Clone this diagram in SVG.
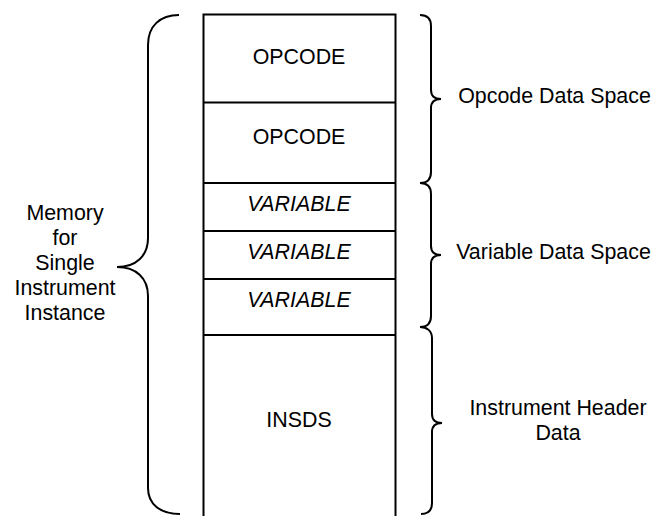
<svg xmlns="http://www.w3.org/2000/svg" width="654" height="516" viewBox="0 0 654 516">
<style>
.ln{fill:none;stroke:#000;stroke-width:2}
.t{font-family:"Liberation Sans",Arial,sans-serif;font-size:21.4px;fill:#000;text-anchor:middle}
.i{font-style:italic}
</style>
<rect width="654" height="516" fill="#fff"/>
<g id="block">
<rect class="ln" x="203.5" y="14.5" width="192" height="520"/>
</g>
<g id="opcode1"><text class="t" x="299" y="64">OPCODE</text></g>
<g id="opcode2"><line class="ln" x1="203" y1="102.5" x2="396" y2="102.5"/><text class="t" x="299" y="144">OPCODE</text></g>
<g id="var1"><line class="ln" x1="203" y1="183" x2="396" y2="183"/><text class="t i" x="299" y="211">VARIABLE</text></g>
<g id="var2"><line class="ln" x1="203" y1="231" x2="396" y2="231"/><text class="t i" x="299" y="259">VARIABLE</text></g>
<g id="var3"><line class="ln" x1="203" y1="279" x2="396" y2="279"/><text class="t i" x="299" y="307">VARIABLE</text></g>
<g id="insds"><line class="ln" x1="203" y1="335" x2="396" y2="335"/><text class="t" x="299" y="427">INSDS</text></g>
<g id="connectors">
<path class="ln" d="M179,15 C160,15 148,26 148,45 L148,238 C148,256 136,267 117,267 C136,267 148,278 148,296 L148,488 C148,504 160,514 180,514"/>
<path class="ln" d="M420,15 C427,15 431,19 431,26 L431,90 C431,96 435,99 441,99 C435,99 431,102 431,108 L431,172 C431,179 427,183 420,183"/>
<path class="ln" d="M420,183 C427,183 431,187 431,194 L431,246 C431,252 435,255 441,255 C435,255 431,258 431,264 L431,316 C431,323 427,327 420,327"/>
<path class="ln" d="M420,327 C427,327 432,331 432,338 L432,414 C432,420 436,423 442,423 C436,423 432,426 432,432 L432,503 C432,510 428,514 421,514"/>
</g>
<g id="label-memory">
<text class="t" x="65" y="220">Memory</text>
<text class="t" x="65" y="245">for</text>
<text class="t" x="65" y="270">Single</text>
<text class="t" x="65" y="295">Instrument</text>
<text class="t" x="65" y="320">Instance</text>
</g>
<g id="label-opcode"><text class="t" x="554.5" y="103">Opcode Data Space</text></g>
<g id="label-variable"><text class="t" x="553.5" y="259">Variable Data Space</text></g>
<g id="label-header">
<text class="t" x="558" y="415">Instrument Header</text>
<text class="t" x="558" y="440">Data</text>
</g>
</svg>
